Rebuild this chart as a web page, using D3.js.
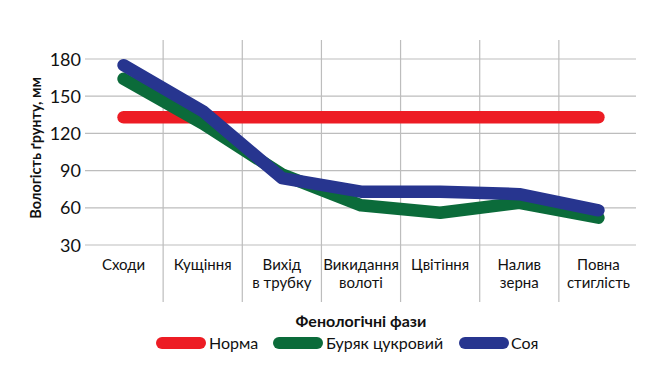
<!DOCTYPE html>
<html><head><meta charset="utf-8">
<script src="https://cdn.jsdelivr.net/npm/d3@7"></script>
<style>body{margin:0;background:#fff}svg{display:block}text{font-family:Lato,"Open Sans",sans-serif;fill:#111}</style>
</head><body><svg id="c" width="659" height="375"></svg>
<script>
const categories = [["Сходи"],["Кущіння"],["Вихід","в трубку"],["Викидання","волоті"],["Цвітіння"],["Налив","зерна"],["Повна","стиглість"]];
const yTicks = [30,60,90,120,150,180];
const norma = [133,133,133,133,133,133,133];
const buryak = [164,128,87,62,56,64,52];
const soya = [175,138,84,73,73,71,58];
const seriesNames = ["Норма","Буряк цукровий","Соя"];
const colors = ["#ED1C24","#0B6B3A","#27358F"];

const svg = d3.select("#c");
const idx = categories.map((d,i)=>i);
const x = d3.scaleBand().domain(idx).range([84,638]);
const y = d3.scaleLinear().domain([30,180]).range([245,59]);

// horizontal grid
svg.append("g").selectAll("line").data(yTicks).join("line")
  .attr("x1",85).attr("x2",636).attr("y1",d=>y(d)).attr("y2",d=>y(d))
  .attr("stroke","#bdbdbd").attr("stroke-width",1.2);
// vertical separators
svg.append("g").selectAll("line").data(idx.slice(1)).join("line")
  .attr("x1",d=>x(d)).attr("x2",d=>x(d)).attr("y1",40).attr("y2",302)
  .attr("stroke","#bdbdbd").attr("stroke-width",1.2);

// y tick labels
svg.append("g").selectAll("text").data(yTicks).join("text")
  .attr("x",81).attr("y",d=>y(d)+6.5).attr("text-anchor","end")
  .attr("font-size",18).text(d=>d);

// category labels
const cl = svg.append("g").selectAll("text").data(categories).join("text")
  .attr("text-anchor","middle").attr("font-size",15)
  .attr("x",(d,i)=>x(i)+x.bandwidth()/2).attr("y",270);
cl.selectAll("tspan").data(d=>d).join("tspan")
  .attr("x",function(){return this.parentNode.getAttribute("x");})
  .attr("dy",(d,i)=>i?18:0).text(d=>d);

// axis titles
svg.append("text").attr("transform","translate(41,148) rotate(-90)")
  .attr("text-anchor","middle").attr("font-size",14.5).attr("font-weight","bold")
  .text("Вологість ґрунту, мм");
svg.append("text").attr("x",361).attr("y",327).attr("text-anchor","middle")
  .attr("font-size",16).attr("font-weight","bold").text("Фенологічні фази");

// lines
const line = d3.line().x((d,i)=>x(i)+x.bandwidth()/2).y(d=>y(d));
[norma,buryak,soya].forEach((s,k)=>{
  svg.append("path").attr("d",line(s)).attr("fill","none")
    .attr("stroke",colors[k]).attr("stroke-width",12.5)
    .attr("stroke-linecap","round").attr("stroke-linejoin","round");
});

// legend
const leg = [{x0:156,tx:209},{x0:273,tx:326},{x0:459,tx:511}];
leg.forEach((L,k)=>{
  svg.append("line").attr("x1",L.x0+6).attr("x2",L.x0+44).attr("y1",343).attr("y2",343)
    .attr("stroke",colors[k]).attr("stroke-width",12).attr("stroke-linecap","round");
  svg.append("text").attr("x",L.tx).attr("y",349).attr("font-size",16).text(seriesNames[k]);
});
</script></body></html>
